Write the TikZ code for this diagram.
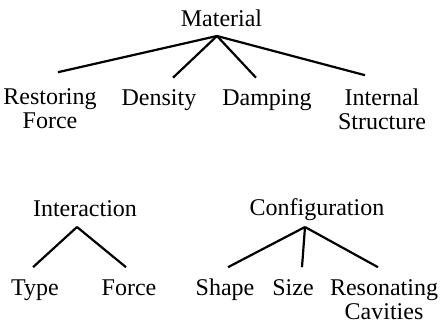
\documentclass[tikz,border=0pt]{standalone}
\usepackage{fontspec}
\setmainfont{Liberation Serif}
\usepackage{tikz}
\begin{document}
\begin{tikzpicture}[
  x=1pt, y=-1pt,
  parent/.style={inner sep=0pt, anchor=base, font=\fontsize{24}{24}\selectfont},
  child/.style={inner sep=0pt, outer ysep=12pt, anchor=north, align=center,
    font=\fontsize{24}{24}\selectfont, execute at begin node=\strut},
  branch/.style={line width=2.2pt, draw=black},
]
\useasboundingbox (0,0) rectangle (440,323);

% === Top tree: Material ===
\node[parent] (mat) at (221.5,27) {Material};
\coordinate (mat-root) at ([xshift=-4.5pt,yshift=-9pt]mat.base);
\node[child] (rest) at (50,76.7) {Restoring\\Force};
\node[child] (dens) at (159,76.7) {Density};
\node[child] (damp) at (267,76.7) {Damping};
\node[child] (intl) at (382,76.7) {Internal\\Structure};
\draw[branch] (mat-root) -- ([xshift=8pt,yshift=4.5pt]rest.north);
\draw[branch] (mat-root) -- ([xshift=14pt,yshift=-1pt]dens.north);
\draw[branch] (mat-root) -- ([xshift=-11pt,yshift=-1pt]damp.north);
\draw[branch] (mat-root) -- ([xshift=-17pt,yshift=1.5pt]intl.north);

% === Bottom left: Interaction ===
\node[parent] (inter) at (85,217) {Interaction};
\coordinate (inter-root) at ([xshift=-8pt,yshift=-10pt]inter.base);
\node[child] (type) at (35,267.2) {Type};
\node[child] (frc) at (129,267.2) {Force};
\draw[branch] (inter-root) -- ([xshift=-2pt]type.north);
\draw[branch] (inter-root) -- ([xshift=-3pt]frc.north);

% === Bottom right: Configuration ===
\node[parent] (config) at (317,216) {Configuration};
\coordinate (config-root) at ([xshift=-12pt,yshift=-11pt]config.base);
\node[child] (shape) at (225,267.2) {Shape};
\node[child] (size) at (293,267.2) {Size};
\node[child] (reson) at (384,267.2) {Resonating\\Cavities};
\draw[branch] (config-root) -- ([xshift=3pt]shape.north);
\draw[branch] (config-root) -- ([xshift=9pt]size.north);
\draw[branch] (config-root) -- ([xshift=-6pt]reson.north);
\end{tikzpicture}
\end{document}
